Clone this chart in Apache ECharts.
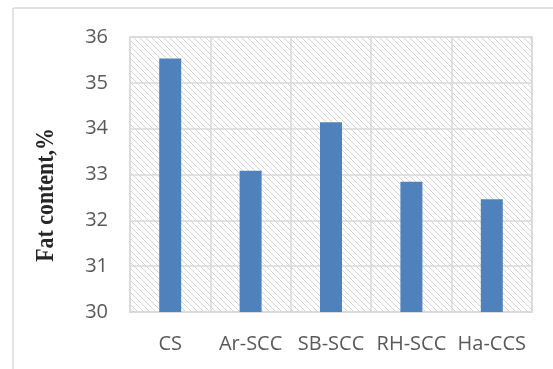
<!DOCTYPE html>
<html>
<head>
<meta charset="utf-8">
<script src="https://cdn.jsdelivr.net/npm/echarts@6/dist/echarts.min.js"></script>
<style>
html,body{margin:0;padding:0;background:#fff;}
#chart{width:553px;height:369px;}
</style>
</head>
<body>
<div id="chart"></div>
<script>
const categories = ['CS', 'Ar-SCC', 'SB-SCC', 'RH-SCC', 'Ha-CCS'];
const fatContent = [35.53, 33.08, 34.14, 32.84, 32.46];
const yTicks = [30, 31, 32, 33, 34, 35, 36];
const yTitle = 'Fat content,%';

// diagonal hatch tile for the plot background
function hatchTile() {
  const c = document.createElement('canvas');
  c.width = 6; c.height = 6;
  const g = c.getContext('2d');
  g.fillStyle = '#ffffff';
  g.fillRect(0, 0, 6, 6);
  g.strokeStyle = '#d4d4d4';
  g.lineWidth = 1;
  g.beginPath();
  g.moveTo(-1, -1); g.lineTo(7, 7);
  g.moveTo(-7, -1); g.lineTo(1, 7);
  g.moveTo(5, -1); g.lineTo(13, 7);
  g.stroke();
  return c;
}

const chart = echarts.init(document.getElementById('chart'));
chart.setOption({
  animation: false,
  grid: {
    left: 130, right: 21, top: 37, bottom: 57,
    show: true,
    backgroundColor: { image: hatchTile(), repeat: 'repeat' },
    borderColor: '#d9d9d9',
    borderWidth: 1.5
  },
  xAxis: {
    type: 'category',
    data: categories,
    axisLine: { lineStyle: { color: '#d9d9d9', width: 1.5 } },
    axisTick: { show: false, interval: 0 },
    splitLine: { show: true, interval: 0, lineStyle: { color: '#d9d9d9', width: 1.5 } },
    axisLabel: { interval: 0, color: '#595959', fontFamily: 'Open Sans', fontSize: 20, margin: 22 }
  },
  yAxis: {
    type: 'value',
    min: yTicks[0],
    max: yTicks[yTicks.length - 1],
    interval: 1,
    axisLine: { show: false },
    axisTick: { show: false },
    splitLine: { lineStyle: { color: '#d9d9d9', width: 1.5 } },
    axisLabel: { color: '#595959', fontFamily: 'Open Sans', fontSize: 20, margin: 22 }
  },
  series: [{
    type: 'bar',
    data: fatContent,
    barWidth: 22,
    itemStyle: { color: '#4f81bd' }
  }],
  graphic: [
    { type: 'line', shape: { x1: 13, y1: 8, x2: 553, y2: 8 }, style: { stroke: '#d9d9d9', lineWidth: 1.5 } },
    { type: 'line', shape: { x1: 13, y1: 8, x2: 13, y2: 369 }, style: { stroke: '#d9d9d9', lineWidth: 1.5 } },
    {
      type: 'text',
      x: 46, y: 195,
      rotation: Math.PI / 2,
      scaleX: 0.84,
      style: {
        text: yTitle,
        font: 'bold 26px "Liberation Serif"',
        fill: '#262626',
        align: 'center',
        verticalAlign: 'middle'
      }
    }
  ]
});
</script>
</body>
</html>
